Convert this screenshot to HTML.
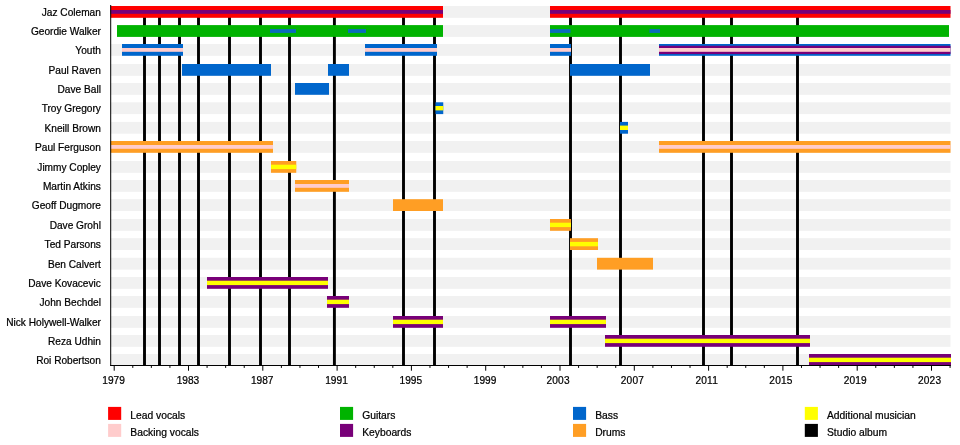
<!DOCTYPE html>
<html><head><meta charset="utf-8"><title>Timeline</title>
<style>
html,body{margin:0;padding:0;background:#fff}
svg{display:block}
text{font-family:"Liberation Sans",sans-serif;font-size:10.15px;fill:#000;stroke:#000;stroke-width:0.22px}
.tk{letter-spacing:0.2px}
.lg{font-size:10.3px}
</style></head><body>
<svg width="960" height="445" viewBox="0 0 960 445">
<rect width="960" height="445" fill="#ffffff"/>

<rect x="110.5" y="6.00" width="840.0" height="11.8" fill="#f1f1f1"/>
<rect x="117" y="25.10" width="832" height="11.8" fill="#f1f1f1"/>
<rect x="110.5" y="44.00" width="840.0" height="11.8" fill="#f1f1f1"/>
<rect x="110.5" y="64.00" width="840.0" height="11.8" fill="#f1f1f1"/>
<rect x="110.5" y="83.00" width="840.0" height="11.8" fill="#f1f1f1"/>
<rect x="110.5" y="102.30" width="840.0" height="11.8" fill="#f1f1f1"/>
<rect x="110.5" y="121.90" width="840.0" height="11.8" fill="#f1f1f1"/>
<rect x="110.5" y="141.00" width="840.0" height="11.8" fill="#f1f1f1"/>
<rect x="110.5" y="161.00" width="840.0" height="11.8" fill="#f1f1f1"/>
<rect x="110.5" y="180.00" width="840.0" height="11.8" fill="#f1f1f1"/>
<rect x="110.5" y="199.20" width="840.0" height="11.8" fill="#f1f1f1"/>
<rect x="110.5" y="219.00" width="840.0" height="11.8" fill="#f1f1f1"/>
<rect x="110.5" y="238.20" width="840.0" height="11.8" fill="#f1f1f1"/>
<rect x="110.5" y="257.80" width="840.0" height="11.8" fill="#f1f1f1"/>
<rect x="110.5" y="277.00" width="840.0" height="11.8" fill="#f1f1f1"/>
<rect x="110.5" y="296.00" width="840.0" height="11.8" fill="#f1f1f1"/>
<rect x="110.5" y="316.00" width="840.0" height="11.8" fill="#f1f1f1"/>
<rect x="110.5" y="335.00" width="840.0" height="11.8" fill="#f1f1f1"/>
<rect x="110.5" y="354.00" width="840.0" height="11.8" fill="#f1f1f1"/>
<rect x="143.05" y="8" width="2.9" height="357.5" fill="#000"/>
<rect x="158.05" y="8" width="2.9" height="357.5" fill="#000"/>
<rect x="178.05" y="8" width="2.9" height="357.5" fill="#000"/>
<rect x="197.05" y="8" width="2.9" height="357.5" fill="#000"/>
<rect x="228.05" y="8" width="2.9" height="357.5" fill="#000"/>
<rect x="259.05" y="8" width="2.9" height="357.5" fill="#000"/>
<rect x="288.05" y="8" width="2.9" height="357.5" fill="#000"/>
<rect x="332.95" y="8" width="2.9" height="357.5" fill="#000"/>
<rect x="402.05" y="8" width="2.9" height="357.5" fill="#000"/>
<rect x="433.05" y="8" width="2.9" height="357.5" fill="#000"/>
<rect x="569.05" y="8" width="2.9" height="357.5" fill="#000"/>
<rect x="619.05" y="8" width="2.9" height="357.5" fill="#000"/>
<rect x="702.05" y="8" width="2.9" height="357.5" fill="#000"/>
<rect x="730.05" y="8" width="2.9" height="357.5" fill="#000"/>
<rect x="796.05" y="8" width="2.9" height="357.5" fill="#000"/>
<rect x="110.5" y="6.00" width="332.50" height="11.8" fill="#ff0000"/>
<rect x="550" y="6.00" width="400.50" height="11.8" fill="#ff0000"/>
<rect x="110.5" y="10.00" width="332.50" height="3.8" fill="#780078"/>
<rect x="550" y="10.00" width="400.50" height="3.8" fill="#780078"/>
<rect x="117" y="25.10" width="326.00" height="11.8" fill="#00b300"/>
<rect x="550" y="25.10" width="399.00" height="11.8" fill="#00b300"/>
<rect x="270" y="29.10" width="26.00" height="3.8" fill="#0a6cbc"/>
<rect x="348" y="29.10" width="18.00" height="3.8" fill="#0a6cbc"/>
<rect x="550" y="29.10" width="20.50" height="3.8" fill="#0a6cbc"/>
<rect x="649.5" y="29.10" width="10.50" height="3.8" fill="#0a6cbc"/>
<rect x="122" y="44.00" width="61.00" height="11.8" fill="#0066cc"/>
<rect x="365" y="44.00" width="72.00" height="11.8" fill="#0066cc"/>
<rect x="550" y="44.00" width="21.00" height="11.8" fill="#0066cc"/>
<rect x="659" y="44.00" width="291.50" height="11.8" fill="#0066cc"/>
<rect x="659" y="45.75" width="291.50" height="8.3" fill="#780078"/>
<rect x="122" y="48.00" width="61.00" height="3.8" fill="#ffcccc"/>
<rect x="365" y="48.00" width="72.00" height="3.8" fill="#ffcccc"/>
<rect x="550" y="48.00" width="21.00" height="3.8" fill="#ffcccc"/>
<rect x="659" y="48.00" width="291.50" height="3.8" fill="#ffcccc"/>
<rect x="182" y="64.00" width="89.00" height="11.8" fill="#0066cc"/>
<rect x="328" y="64.00" width="21.00" height="11.8" fill="#0066cc"/>
<rect x="570" y="64.00" width="80.00" height="11.8" fill="#0066cc"/>
<rect x="295" y="83.00" width="34.00" height="11.8" fill="#0066cc"/>
<rect x="435.5" y="102.30" width="7.75" height="11.8" fill="#0066cc"/>
<rect x="435.5" y="106.00" width="7.75" height="4.4" fill="#ffff00"/>
<rect x="620" y="121.90" width="8.00" height="11.8" fill="#0066cc"/>
<rect x="620" y="125.60" width="8.00" height="4.4" fill="#ffff00"/>
<rect x="110.5" y="141.00" width="162.50" height="11.8" fill="#ff9e24"/>
<rect x="659" y="141.00" width="291.50" height="11.8" fill="#ff9e24"/>
<rect x="110.5" y="145.00" width="162.50" height="3.8" fill="#ffcccc"/>
<rect x="659" y="145.00" width="291.50" height="3.8" fill="#ffcccc"/>
<rect x="271" y="161.00" width="25.25" height="11.8" fill="#ff9e24"/>
<rect x="271" y="164.70" width="25.25" height="4.4" fill="#ffff00"/>
<rect x="295" y="180.00" width="54.00" height="11.8" fill="#ff9e24"/>
<rect x="295" y="184.00" width="54.00" height="3.8" fill="#ffcccc"/>
<rect x="393" y="199.20" width="50.00" height="11.8" fill="#ff9e24"/>
<rect x="550" y="219.00" width="21.00" height="11.8" fill="#ff9e24"/>
<rect x="550" y="222.70" width="21.00" height="4.4" fill="#ffff00"/>
<rect x="570" y="238.20" width="28.00" height="11.8" fill="#ff9e24"/>
<rect x="570" y="241.90" width="28.00" height="4.4" fill="#ffff00"/>
<rect x="597" y="257.80" width="56.00" height="11.8" fill="#ff9e24"/>
<rect x="207" y="277.00" width="121.00" height="11.8" fill="#780078"/>
<rect x="207" y="280.70" width="121.00" height="4.4" fill="#ffff00"/>
<rect x="327" y="296.00" width="22.00" height="11.8" fill="#780078"/>
<rect x="327" y="299.70" width="22.00" height="4.4" fill="#ffff00"/>
<rect x="393" y="316.00" width="50.00" height="11.8" fill="#780078"/>
<rect x="550" y="316.00" width="56.00" height="11.8" fill="#780078"/>
<rect x="393" y="319.70" width="50.00" height="4.4" fill="#ffff00"/>
<rect x="550" y="319.70" width="56.00" height="4.4" fill="#ffff00"/>
<rect x="605" y="335.00" width="205.00" height="11.8" fill="#780078"/>
<rect x="605" y="338.70" width="205.00" height="4.4" fill="#ffff00"/>
<rect x="809" y="354.00" width="142.00" height="11.8" fill="#780078"/>
<rect x="809" y="357.70" width="142.00" height="4.4" fill="#ffff00"/>
<rect x="110.2" y="5" width="1" height="361" fill="#000"/>
<rect x="110.2" y="365" width="840.5" height="1" fill="#000"/>
<rect x="113.70" y="365.5" width="1" height="5.2" fill="#000"/>
<text x="113.60" y="383.9" text-anchor="middle">1979</text>
<rect x="132.28" y="365.5" width="1" height="2.4" fill="#000"/>
<rect x="150.85" y="365.5" width="1" height="2.4" fill="#000"/>
<rect x="169.43" y="365.5" width="1" height="2.4" fill="#000"/>
<rect x="188.00" y="365.5" width="1" height="5.2" fill="#000"/>
<text x="187.90" y="383.9" text-anchor="middle">1983</text>
<rect x="206.57" y="365.5" width="1" height="2.4" fill="#000"/>
<rect x="225.15" y="365.5" width="1" height="2.4" fill="#000"/>
<rect x="243.73" y="365.5" width="1" height="2.4" fill="#000"/>
<rect x="262.30" y="365.5" width="1" height="5.2" fill="#000"/>
<text x="262.20" y="383.9" text-anchor="middle">1987</text>
<rect x="280.88" y="365.5" width="1" height="2.4" fill="#000"/>
<rect x="299.45" y="365.5" width="1" height="2.4" fill="#000"/>
<rect x="318.02" y="365.5" width="1" height="2.4" fill="#000"/>
<rect x="336.60" y="365.5" width="1" height="5.2" fill="#000"/>
<text x="336.50" y="383.9" text-anchor="middle">1991</text>
<rect x="355.18" y="365.5" width="1" height="2.4" fill="#000"/>
<rect x="373.75" y="365.5" width="1" height="2.4" fill="#000"/>
<rect x="392.32" y="365.5" width="1" height="2.4" fill="#000"/>
<rect x="410.90" y="365.5" width="1" height="5.2" fill="#000"/>
<text x="410.80" y="383.9" text-anchor="middle">1995</text>
<rect x="429.47" y="365.5" width="1" height="2.4" fill="#000"/>
<rect x="448.05" y="365.5" width="1" height="2.4" fill="#000"/>
<rect x="466.62" y="365.5" width="1" height="2.4" fill="#000"/>
<rect x="485.20" y="365.5" width="1" height="5.2" fill="#000"/>
<text x="485.10" y="383.9" text-anchor="middle">1999</text>
<rect x="503.77" y="365.5" width="1" height="2.4" fill="#000"/>
<rect x="522.35" y="365.5" width="1" height="2.4" fill="#000"/>
<rect x="540.92" y="365.5" width="1" height="2.4" fill="#000"/>
<rect x="559.50" y="365.5" width="1" height="5.2" fill="#000"/>
<text class="tk" x="558.10" y="383.9" text-anchor="middle">2003</text>
<rect x="578.08" y="365.5" width="1" height="2.4" fill="#000"/>
<rect x="596.65" y="365.5" width="1" height="2.4" fill="#000"/>
<rect x="615.23" y="365.5" width="1" height="2.4" fill="#000"/>
<rect x="633.80" y="365.5" width="1" height="5.2" fill="#000"/>
<text class="tk" x="632.40" y="383.9" text-anchor="middle">2007</text>
<rect x="652.38" y="365.5" width="1" height="2.4" fill="#000"/>
<rect x="670.95" y="365.5" width="1" height="2.4" fill="#000"/>
<rect x="689.52" y="365.5" width="1" height="2.4" fill="#000"/>
<rect x="708.10" y="365.5" width="1" height="5.2" fill="#000"/>
<text class="tk" x="706.70" y="383.9" text-anchor="middle">2011</text>
<rect x="726.68" y="365.5" width="1" height="2.4" fill="#000"/>
<rect x="745.25" y="365.5" width="1" height="2.4" fill="#000"/>
<rect x="763.83" y="365.5" width="1" height="2.4" fill="#000"/>
<rect x="782.40" y="365.5" width="1" height="5.2" fill="#000"/>
<text class="tk" x="781.00" y="383.9" text-anchor="middle">2015</text>
<rect x="800.98" y="365.5" width="1" height="2.4" fill="#000"/>
<rect x="819.55" y="365.5" width="1" height="2.4" fill="#000"/>
<rect x="838.12" y="365.5" width="1" height="2.4" fill="#000"/>
<rect x="856.70" y="365.5" width="1" height="5.2" fill="#000"/>
<text class="tk" x="855.30" y="383.9" text-anchor="middle">2019</text>
<rect x="875.27" y="365.5" width="1" height="2.4" fill="#000"/>
<rect x="893.85" y="365.5" width="1" height="2.4" fill="#000"/>
<rect x="912.43" y="365.5" width="1" height="2.4" fill="#000"/>
<rect x="931.00" y="365.5" width="1" height="5.2" fill="#000"/>
<text class="tk" x="929.60" y="383.9" text-anchor="middle">2023</text>
<rect x="949.58" y="365.5" width="1" height="2.4" fill="#000"/>
<text x="100.9" y="15.80" text-anchor="end">Jaz Coleman</text>
<text x="100.9" y="34.90" text-anchor="end">Geordie Walker</text>
<text x="100.9" y="53.80" text-anchor="end">Youth</text>
<text x="100.9" y="73.80" text-anchor="end">Paul Raven</text>
<text x="100.9" y="92.80" text-anchor="end">Dave Ball</text>
<text x="100.9" y="112.10" text-anchor="end">Troy Gregory</text>
<text x="100.9" y="131.70" text-anchor="end">Kneill Brown</text>
<text x="100.9" y="150.80" text-anchor="end">Paul Ferguson</text>
<text x="100.9" y="170.80" text-anchor="end">Jimmy Copley</text>
<text x="100.9" y="189.80" text-anchor="end">Martin Atkins</text>
<text x="100.9" y="209.00" text-anchor="end">Geoff Dugmore</text>
<text x="100.9" y="228.80" text-anchor="end">Dave Grohl</text>
<text x="100.9" y="248.00" text-anchor="end">Ted Parsons</text>
<text x="100.9" y="267.60" text-anchor="end">Ben Calvert</text>
<text x="100.9" y="286.80" text-anchor="end">Dave Kovacevic</text>
<text x="100.9" y="305.80" text-anchor="end">John Bechdel</text>
<text x="100.9" y="325.80" text-anchor="end">Nick Holywell-Walker</text>
<text x="100.9" y="344.80" text-anchor="end">Reza Udhin</text>
<text x="100.9" y="363.80" text-anchor="end">Roi Robertson</text>
<rect x="108.1" y="406.9" width="13.1" height="13" fill="#ff0000"/>
<rect x="108.1" y="423.9" width="13.1" height="13" fill="#ffcccc"/>
<text class="lg" x="130.3" y="418.7">Lead vocals</text>
<text class="lg" x="130.3" y="435.6">Backing vocals</text>
<rect x="340" y="406.9" width="13.1" height="13" fill="#00b300"/>
<rect x="340" y="423.9" width="13.1" height="13" fill="#780078"/>
<text class="lg" x="362.2" y="418.7">Guitars</text>
<text class="lg" x="362.2" y="435.6">Keyboards</text>
<rect x="573" y="406.9" width="13.1" height="13" fill="#0066cc"/>
<rect x="573" y="423.9" width="13.1" height="13" fill="#ff9e24"/>
<text class="lg" x="595.2" y="418.7">Bass</text>
<text class="lg" x="595.2" y="435.6">Drums</text>
<rect x="804.8" y="406.9" width="13.1" height="13" fill="#ffff00"/>
<rect x="804.8" y="423.9" width="13.1" height="13" fill="#000"/>
<text class="lg" x="827.0" y="418.7">Additional musician</text>
<text class="lg" x="827.0" y="435.6">Studio album</text>
</svg></body></html>
